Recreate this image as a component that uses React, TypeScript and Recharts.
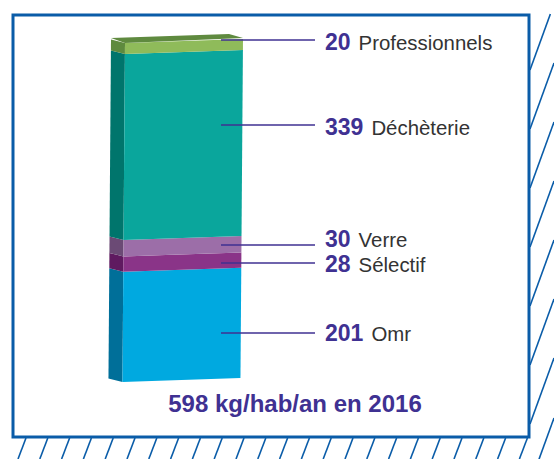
import { Bar, BarChart, LabelList, XAxis, YAxis } from "recharts";

const categories = ["Omr", "Sélectif", "Verre", "Déchèterie", "Professionnels"];
const values = [201, 28, 30, 339, 20];
const title = "598 kg/hab/an en 2016";

const frontColors = ["#00a9e0", "#8a3488", "#9c6ea8", "#0aa69c", "#8fbb5a"];
const sideColors = ["#006f99", "#5f1a60", "#6b4a75", "#00756c", "#5e8a3e"];
const leaderY = [333, 263, 245, 125, 40];
const labelY = [341, 272, 247, 135, 50];

const BLUE = "#0a5ca8";
const INK = "#3f3192";
const FONT = "'Liberation Sans', Arial, sans-serif";
const SIDE_W = 14;
const TILT = 4;

const row: Record<string, string | number> = { name: "2016" };
categories.forEach((c, i) => {
  row[c] = values[i];
});

// the column leans a little to the left as it goes down
const lean = (y: number) => (43 - y) * 0.0075;

function Block(props: any) {
  const { x, y, width, height, index } = props;
  const b = y + height;
  const xt = x + lean(y);
  const xb = x + lean(b);
  const side = [
    [xt - SIDE_W, y - 3.5],
    [xt, y],
    [xb, b],
    [xb - SIDE_W, b - 3.5],
  ];
  const front = [
    [xt, y],
    [xt + width, y - TILT],
    [xb + width, b - TILT],
    [xb, b],
  ];
  const pts = (p: number[][]) => p.map((q) => q.join(",")).join(" ");
  return (
    <g>
      <polygon points={pts(side)} fill={sideColors[index]} />
      <polygon points={pts(front)} fill={frontColors[index]} />
      {index === categories.length - 1 && (
        <polygon
          points={pts([
            [xt - SIDE_W, y - 5],
            [xt, y],
            [xt + width, y - TILT - 1],
            [xt + width - SIDE_W, y - TILT - 5],
          ])}
          fill="#5f8a3f"
        />
      )}
    </g>
  );
}

function Callout({ i }: { i: number }) {
  return (
    <g fontFamily={FONT}>
      <line x1={221} x2={315} y1={leaderY[i]} y2={leaderY[i]} stroke={INK} strokeWidth={1.5} />
      <text x={325} y={labelY[i]}>
        <tspan fontSize={23} fontWeight="bold" fill={INK}>
          {values[i]}
        </tspan>
        <tspan dx={8} fontSize={20.4} fill="#333333">
          {categories[i]}
        </tspan>
      </text>
    </g>
  );
}

function Backdrop() {
  const bottom = Array.from({ length: 24 }, (_, k) => 26 + k * 21.8);
  const right = [70, 129, 188, 247, 306, 365, 424, 484];
  return (
    <svg width={554} height={459} style={{ position: "absolute", left: 0, top: 0 }}>
      <rect width={554} height={459} fill="#ffffff" />
      {bottom.map((x) => (
        <line key={x} x1={x} y1={438} x2={x - 8} y2={459} stroke={BLUE} strokeWidth={1.6} />
      ))}
      {right.map((y) => {
        const top = Math.max(14, y - 24 * 2.75);
        return (
          <line key={y} x1={530} y1={y} x2={530 + (y - top) / 2.75} y2={top} stroke={BLUE} strokeWidth={1.6} />
        );
      })}
      <rect x={13} y={15} width={516} height={422} fill="#ffffff" stroke={BLUE} strokeWidth={3} />
      <text x={295} y={412} textAnchor="middle" fontFamily={FONT} fontWeight="bold" fontSize={24} fill={INK}>
        {title}
      </text>
    </svg>
  );
}

export default function App() {
  return (
    <div style={{ position: "absolute", left: 0, top: 0, width: 554, height: 459 }}>
      <Backdrop />
      <div style={{ position: "absolute", left: 0, top: 0 }}>
        <BarChart
          width={554}
          height={459}
          data={[row]}
          margin={{ top: 43, right: 311, bottom: 77, left: 125 }}
          barCategoryGap={0}
        >
          <XAxis dataKey="name" hide />
          <YAxis hide domain={[0, 618]} />
          {categories.map((c, i) => (
            <Bar
              key={c}
              dataKey={c}
              stackId="a"
              isAnimationActive={false}
              shape={(p: any) => <Block {...p} index={i} />}
            >
              <LabelList dataKey={c} content={() => <Callout i={i} />} />
            </Bar>
          ))}
        </BarChart>
      </div>
    </div>
  );
}
